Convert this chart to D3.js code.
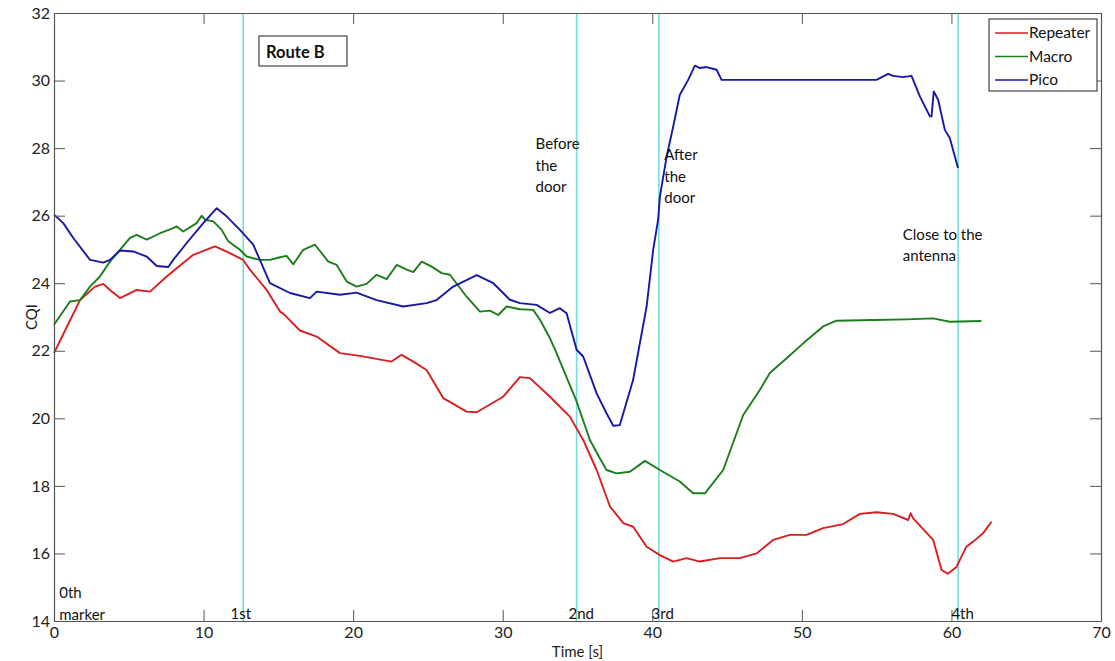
<!DOCTYPE html>
<html>
<head>
<meta charset="utf-8">
<script src="https://cdn.jsdelivr.net/npm/d3@7"></script>
<style>
  html, body { margin: 0; padding: 0; background: #fff; }
  svg { display: block; font-family: Lato, "Liberation Sans", sans-serif; }
</style>
</head>
<body>
<svg id="chart" width="1115" height="661"></svg>
<script>
// ---- data ----
const repeaterT = [0,0.74,1.74,2.74,3.3,3.74,4.41,5.53,6.42,7.53,9.31,10.76,11.76,12.65,13.1,14.22,15.11,15.33,16.44,17.56,19.12,20.45,22.57,23.24,24.02,24.91,26.02,27.59,28.26,30.03,31.15,31.82,33.16,34.49,35.38,36.28,37.17,38.06,38.72,39.62,40.51,41.4,42.29,43.18,44.52,45.86,46.97,48.08,49.2,50.31,51.42,52.76,53.88,54.99,56.1,57.11,57.27,57.44,58.78,59.34,59.76,60.34,61.0,61.45,62.12,62.68];
const repeaterV = [21.93,22.6,23.5,23.9,23.98,23.8,23.56,23.8,23.75,24.2,24.84,25.09,24.89,24.69,24.4,23.8,23.16,23.1,22.6,22.42,21.93,21.85,21.68,21.88,21.68,21.43,20.6,20.2,20.18,20.64,21.22,21.19,20.64,20.05,19.36,18.47,17.39,16.9,16.79,16.2,15.95,15.76,15.86,15.76,15.86,15.86,16.0,16.4,16.55,16.55,16.75,16.87,17.17,17.22,17.17,16.99,17.19,17.04,16.4,15.51,15.4,15.6,16.2,16.35,16.6,16.94];

const macroT = [0,1.07,1.74,2.41,3.07,3.74,4.41,5.08,5.53,6.2,7.09,7.97,8.2,8.64,9.54,9.87,10.09,10.65,11.21,11.65,12.43,12.88,13.77,14.44,15.11,15.55,16.0,16.66,17.45,18.34,18.9,19.57,20.23,20.9,21.57,22.24,22.91,23.58,24.02,24.58,25.25,25.92,26.47,27.59,28.48,29.14,29.7,30.26,31.15,32.04,32.49,33.16,33.6,34.05,34.94,35.83,36.5,36.94,37.61,38.5,39.51,40.51,41.84,42.73,43.52,44.74,46.08,47.19,47.86,48.98,50.09,51.42,52.32,54.77,57.0,58.78,59.89,62.01];
const macroV = [22.77,23.46,23.5,23.9,24.2,24.64,24.99,25.34,25.43,25.29,25.48,25.63,25.68,25.53,25.78,26.0,25.88,25.83,25.58,25.24,24.99,24.79,24.69,24.69,24.77,24.81,24.56,24.99,25.14,24.64,24.54,24.05,23.9,23.98,24.25,24.12,24.54,24.4,24.33,24.64,24.49,24.3,24.25,23.6,23.16,23.19,23.06,23.31,23.23,23.21,22.92,22.37,21.93,21.45,20.5,19.36,18.81,18.47,18.37,18.42,18.74,18.47,18.13,17.78,17.78,18.47,20.1,20.84,21.34,21.78,22.22,22.72,22.89,22.91,22.93,22.96,22.86,22.88];

const picoT = [0,0.62,1.29,2.41,3.3,3.74,4.41,5.3,6.2,6.87,7.64,7.97,8.87,9.98,10.88,11.54,12.43,13.32,14.44,15.78,17.11,17.56,19.12,20.23,21.57,23.35,24.91,25.58,26.69,28.26,29.37,30.03,30.48,31.15,32.27,33.16,33.82,34.27,34.94,35.38,36.28,36.94,37.39,37.83,38.72,39.62,40.06,40.39,40.51,40.96,41.4,41.84,42.4,42.85,43.18,43.63,44.3,44.63,47.64,54.99,55.77,56.1,56.77,57.33,57.89,58.56,58.67,58.82,59.11,59.56,59.89,60.44];
const picoV = [26.03,25.78,25.34,24.69,24.61,24.69,24.97,24.94,24.79,24.51,24.48,24.69,25.19,25.78,26.22,25.98,25.58,25.14,24.0,23.71,23.56,23.75,23.66,23.72,23.5,23.31,23.41,23.5,23.9,24.24,24.0,23.71,23.51,23.41,23.36,23.12,23.26,23.11,22.03,21.83,20.74,20.15,19.78,19.8,21.14,23.31,24.99,25.88,26.57,27.75,28.64,29.58,30.02,30.44,30.37,30.4,30.32,30.02,30.02,30.02,30.2,30.14,30.1,30.14,29.53,28.94,28.94,29.68,29.43,28.54,28.3,27.41];

const seriesNames = ["Repeater", "Macro", "Pico"];
const seriesColors = ["#d81e1e", "#1b7d1b", "#1818a6"];

const markerTimes = [12.65, 34.94, 40.44, 60.45];
const xTicks = [0, 10, 20, 30, 40, 50, 60, 70];
const yTicks = [14, 16, 18, 20, 22, 24, 26, 28, 30, 32];

// annotations: x (time), y (CQI) of first line baseline, lines
const annotations = [
  { t: 0.35, v: 14.67, lines: ["0th", "marker"] },
  { t: 11.8, v: 14.07, lines: ["1st"] },
  { t: 34.4, v: 14.07, lines: ["2nd"] },
  { t: 39.95, v: 14.07, lines: ["3rd"] },
  { t: 60.0, v: 14.07, lines: ["4th"] },
  { t: 32.2, v: 27.97, lines: ["Before", "the", "door"] },
  { t: 40.8, v: 27.64, lines: ["After", "the", "door"] },
  { t: 56.75, v: 25.28, lines: ["Close to the", "antenna"] }
];

// ---- chart ----
const svg = d3.select("#chart");
const L = 54, R = 1101, T = 13, B = 621;
const x = d3.scaleLinear().domain([0, 70]).range([L, R]);
const y = d3.scaleLinear().domain([14, 32]).range([B, T]);
const axisColor = "#555";

// markers
svg.append("g").selectAll("line").data(markerTimes).join("line")
  .attr("x1", d => x(d)).attr("x2", d => x(d))
  .attr("y1", T).attr("y2", B)
  .attr("stroke", "#74dde3").attr("stroke-width", 1.6);

// series
const line = d3.line().x(d => x(d[0])).y(d => y(d[1]));
const data = [
  d3.zip(repeaterT, repeaterV),
  d3.zip(macroT, macroV),
  d3.zip(picoT, picoV)
];
data.forEach((d, i) => {
  svg.append("path").datum(d)
    .attr("fill", "none")
    .attr("stroke", seriesColors[i])
    .attr("stroke-width", 1.9)
    .attr("stroke-linejoin", "round")
    .attr("d", line);
});

// axes
const fontTick = "16px";
const gx = svg.append("g").attr("transform", `translate(0,${B})`)
  .call(d3.axisBottom(x).tickValues(xTicks).tickSizeInner(-11).tickSizeOuter(0).tickPadding(6).tickFormat(d3.format("d")));
const gxt = svg.append("g").attr("transform", `translate(0,${T})`)
  .call(d3.axisTop(x).tickValues(xTicks).tickSizeInner(-11).tickSizeOuter(0).tickFormat(""));
const gy = svg.append("g").attr("transform", `translate(${L},0)`)
  .call(d3.axisLeft(y).tickValues(yTicks).tickSizeInner(-11).tickSizeOuter(0).tickPadding(4).tickFormat(d3.format("d")));
const gyr = svg.append("g").attr("transform", `translate(${R},0)`)
  .call(d3.axisRight(y).tickValues(yTicks).tickSizeInner(-11).tickSizeOuter(0).tickFormat(""));
[gx, gxt, gy, gyr].forEach(g => {
  g.select(".domain").attr("stroke", axisColor).attr("stroke-width", 1.2);
  g.selectAll(".tick line").attr("stroke", axisColor);
  g.selectAll(".tick text").attr("fill", "#222").style("font-size", fontTick).style("font-family", "Lato, sans-serif");
});

// axis titles
svg.append("text").attr("x", (L + R) / 2).attr("y", 657)
  .attr("text-anchor", "middle").style("font-size", "15px").attr("fill", "#222").text("Time [s]");
svg.append("text").attr("transform", `translate(37,${(T + B) / 2}) rotate(-90)`)
  .attr("text-anchor", "middle").style("font-size", "15px").attr("fill", "#222").text("CQI");

// annotations
annotations.forEach(a => {
  const tx = svg.append("text").attr("x", x(a.t)).attr("y", y(a.v))
    .style("font-size", "15px").attr("fill", "#111");
  a.lines.forEach((l, i) => {
    tx.append("tspan").attr("x", x(a.t)).attr("dy", i === 0 ? 0 : 21.5).text(l);
  });
});

// Route B box
const rb = svg.append("g").attr("transform", "translate(259,36)");
rb.append("rect").attr("width", 88).attr("height", 30)
  .attr("fill", "#fff").attr("stroke", "#444").attr("stroke-width", 1.2);
rb.append("text").attr("x", 7).attr("y", 22).style("font-size", "16.5px").style("font-weight", "bold")
  .attr("fill", "#111").text("Route B");

// legend
const lg = svg.append("g").attr("transform", "translate(989,19)");
lg.append("rect").attr("width", 108).attr("height", 72)
  .attr("fill", "#fff").attr("stroke", "#444").attr("stroke-width", 1.2);
seriesNames.forEach((n, i) => {
  const yy = 14 + i * 23.5;
  lg.append("line").attr("x1", 6).attr("x2", 39).attr("y1", yy).attr("y2", yy)
    .attr("stroke", seriesColors[i]).attr("stroke-width", 1.6);
  lg.append("text").attr("x", 40).attr("y", yy + 5).style("font-size", "15.5px")
    .attr("fill", "#111").text(n);
});
</script>
</body>
</html>
